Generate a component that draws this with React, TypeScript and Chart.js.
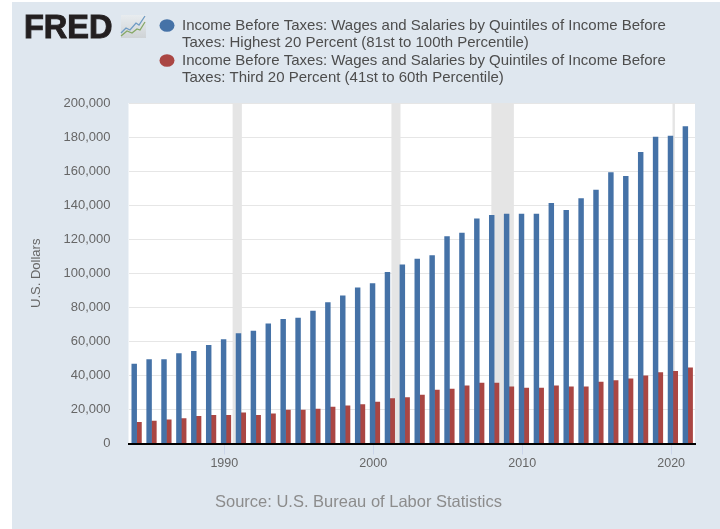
import React, { useEffect, useRef } from "react";
import { Chart, registerables } from "chart.js";

Chart.register(...registerables);

const years = [
  1984, 1985, 1986, 1987, 1988, 1989, 1990, 1991, 1992, 1993, 1994, 1995, 1996,
  1997, 1998, 1999, 2000, 2001, 2002, 2003, 2004, 2005, 2006, 2007, 2008, 2009,
  2010, 2011, 2012, 2013, 2014, 2015, 2016, 2017, 2018, 2019, 2020, 2021,
];
const highestQuintile = [
  46700, 49300, 49300, 52800, 54200, 57700, 61100, 64600, 66000, 70300, 72900,
  73600, 77800, 82700, 86800, 91500, 93900, 100600, 104900, 108300, 110400,
  121600, 123600, 132000, 134000, 134800, 134800, 134800, 141100, 137000,
  143800, 148800, 159200, 157000, 171000, 180000, 180600, 186200,
];
const thirdQuintile = [
  12500, 13100, 13900, 14600, 16000, 16600, 16600, 18000, 16600, 17400, 19600,
  19600, 20200, 21400, 22100, 22900, 24300, 26400, 27000, 28500, 31400, 32000,
  33900, 35500, 35500, 33300, 32600, 32600, 33900, 33300, 33300, 36100, 36900,
  38000, 39700, 41600, 42400, 44400,
];
const recessionStarts = [1990.56, 2001.22, 2007.93, 2020.09];
const recessionEnds = [1991.18, 2001.83, 2009.44, 2020.25];
const seriesNames = [
  ["Income Before Taxes: Wages and Salaries by Quintiles of Income Before", "Taxes: Highest 20 Percent (81st to 100th Percentile)"],
  ["Income Before Taxes: Wages and Salaries by Quintiles of Income Before", "Taxes: Third 20 Percent (41st to 60th Percentile)"],
];

const FONT = "'Liberation Sans', Arial, sans-serif";
const BLUE = "#4572a7";
const RED = "#aa4643";
const PANEL = "#dfe7ef";
const LEGEND_TEXT = "#4d4d4d";
const LEGEND_LINE = 17.5;
const LEGEND_ROW_GAP = 20;
// Annual bars sit just after the tick that marks 1 January of their year.
const GROUP_SHIFT = 0.115;

const plotBackground = {
  id: "plotBackground",
  beforeDraw(chart: any) {
    const { ctx, chartArea: a } = chart;
    ctx.save();
    ctx.fillStyle = "#ffffff";
    ctx.fillRect(a.left, a.top, a.width, a.height);
    ctx.restore();
  },
};

const recessionBands = {
  id: "recessionBands",
  beforeDatasetsDraw(chart: any) {
    const { ctx, chartArea: a, scales } = chart;
    ctx.save();
    ctx.fillStyle = "#e5e5e5";
    recessionStarts.forEach((start, i) => {
      const x0 = scales.x.getPixelForValue(start);
      const x1 = scales.x.getPixelForValue(recessionEnds[i]);
      ctx.fillRect(x0, a.top, x1 - x0, a.height);
    });
    ctx.restore();
  },
};

// Moves the legend block to the right of the logo. The label padding, which
// spaces the two-line rows apart, also insets the block, so it is taken off here.
const legendPlacement = {
  id: "legendPlacement",
  afterLayout(chart: any) {
    chart.legend.left = 159.5 - LEGEND_ROW_GAP;
    chart.legend.top = 18 - LEGEND_ROW_GAP;
  },
};

const logo = {
  id: "logo",
  afterDraw(chart: any) {
    const { ctx } = chart;
    ctx.save();
    ctx.fillStyle = "#231f20";
    ctx.strokeStyle = "#231f20";
    ctx.lineWidth = 1;
    ctx.font = `bold 32.5px ${FONT}`;
    ctx.textBaseline = "alphabetic";
    ctx.textAlign = "left";
    ctx.fillText("FRED", 24, 38);
    ctx.strokeText("FRED", 24, 38);

    const g = ctx.createLinearGradient(0, 15, 0, 38);
    g.addColorStop(0, "#e8ecef");
    g.addColorStop(1, "#cfd3d6");
    ctx.fillStyle = g;
    ctx.fillRect(121, 15, 25, 23);
    const trace = (color: string, pts: number[][]) => {
      ctx.strokeStyle = color;
      ctx.lineWidth = 1.3;
      ctx.beginPath();
      pts.forEach(([x, y], i) => (i ? ctx.lineTo(x, y) : ctx.moveTo(x, y)));
      ctx.stroke();
    };
    trace("#6f9bc4", [[121, 33], [126, 28], [130, 30], [136, 23], [139, 25], [145, 16]]);
    trace("#86a866", [[121, 36], [127, 31], [132, 33], [137, 29], [140, 30], [145, 22]]);
    ctx.restore();
  },
};

export default function App() {
  const canvasRef = useRef<HTMLCanvasElement>(null);

  useEffect(() => {
    const xValues = years.map((y) => y + GROUP_SHIFT);
    const chart = new Chart(canvasRef.current!, {
      type: "bar",
      data: {
        datasets: [
          {
            label: seriesNames[0].join(" "),
            data: xValues.map((x, i) => ({ x, y: highestQuintile[i] })),
            backgroundColor: BLUE,
          },
          {
            label: seriesNames[1].join(" "),
            data: xValues.map((x, i) => ({ x, y: thirdQuintile[i] })),
            backgroundColor: RED,
          },
        ],
      },
      plugins: [plotBackground, recessionBands, legendPlacement, logo],
      options: {
        responsive: false,
        animation: false,
        barThickness: 4.8,
        layout: { padding: { left: 22, right: 25, top: 23, bottom: 0 } },
        scales: {
          x: {
            type: "linear",
            offset: false,
            min: 1983.57,
            max: 2021.6,
            grid: {
              offset: false,
              drawOnChartArea: false,
              drawTicks: true,
              tickLength: 11,
              tickColor: "#ccd6eb",
            },
            border: { color: "#000000", width: 2, z: 1 },
            ticks: {
              stepSize: 10,
              includeBounds: false,
              maxRotation: 0,
              padding: 2,
              color: "#666666",
              font: { family: FONT, size: 12.5 },
              callback: (v: any) => String(v),
            },
            afterFit(scale: any) {
              scale.height = 48.7;
            },
          },
          y: {
            min: 0,
            max: 200000,
            grid: { color: "#e6e6e6", lineWidth: 1, drawTicks: false },
            border: { display: false },
            ticks: {
              stepSize: 20000,
              padding: 18,
              color: "#666666",
              font: { family: FONT, size: 13 },
              callback: (v: any) => Number(v).toLocaleString("en-US"),
            },
            title: {
              display: true,
              text: "U.S. Dollars",
              color: "#666666",
              font: { family: FONT, size: 13 },
              padding: { top: 7, bottom: 0 },
            },
            afterFit(scale: any) {
              scale.width = 106.5;
            },
          },
        },
        plugins: {
          tooltip: { enabled: false },
          title: {
            display: true,
            position: "bottom",
            text: "Source: U.S. Bureau of Labor Statistics",
            color: "#8c8c8c",
            font: { family: FONT, size: 16.5, weight: "normal", lineHeight: 1.2 },
            padding: { top: 0, bottom: 17 },
          },
          legend: {
            position: "top",
            align: "start",
            labels: {
              usePointStyle: true,
              pointStyle: "circle",
              pointStyleWidth: 15,
              boxHeight: 9,
              padding: LEGEND_ROW_GAP,
              color: LEGEND_TEXT,
              font: { family: FONT, size: 15, lineHeight: LEGEND_LINE / 15 },
              generateLabels: () =>
                seriesNames.map((lines, i) => ({
                  text: lines,
                  fontColor: LEGEND_TEXT,
                  fillStyle: i === 0 ? BLUE : RED,
                  strokeStyle: i === 0 ? BLUE : RED,
                  lineWidth: 0,
                  pointStyle: "circle",
                  datasetIndex: i,
                  hidden: false,
                })) as any,
            },
          },
        },
      } as any,
    });
    return () => chart.destroy();
  }, []);

  return (
    <div style={{ position: "fixed", inset: 0, background: "#ffffff", overflow: "hidden" }}>
      <div style={{ position: "absolute", left: 12, top: 2, right: 0, bottom: 0, background: PANEL }} />
      <canvas
        ref={canvasRef}
        width={720}
        height={529}
        style={{ position: "absolute", left: 0, top: 0, width: 720, height: 529 }}
      />
    </div>
  );
}
